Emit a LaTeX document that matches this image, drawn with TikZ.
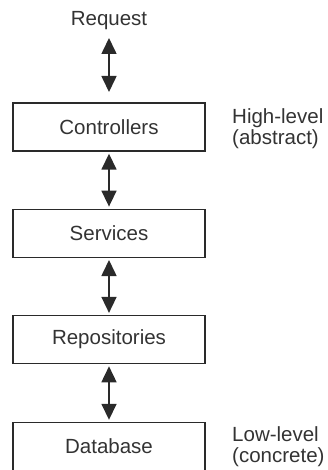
\documentclass[tikz,border=0pt]{standalone}
\usepackage{fontspec}
\setmainfont{Liberation Sans}
\usetikzlibrary{arrows.meta}

\definecolor{inkline}{HTML}{2A2A2A}
\definecolor{inktext}{HTML}{333333}

\tikzset{
  layer/.style={draw=inkline, line width=1.4pt, minimum width=192pt,
    minimum height=48pt, inner sep=0pt, text=inktext,
    font=\fontsize{20.5}{22}\selectfont},
  plain/.style={text=inktext, inner sep=0pt,
    font=\fontsize{20.5}{21}\selectfont},
  note/.style={plain, align=left, anchor=north west},
  both/.style={draw=inkline, line width=1.6pt,
    {Triangle[length=16pt,width=15pt]}-{Triangle[length=16pt,width=15pt]},
    shorten <=2pt, shorten >=2pt}
}

\begin{document}
\begin{tikzpicture}[x=1pt,y=-1pt]
  \path[use as bounding box, clip] (0,0) rectangle (328,470);

  % request label on top
  \node[plain, anchor=base] (req) at (109,26) {Request};
  \coordinate (reqtop) at (109,36);
  \coordinate (reqbot) at (109,94);

  % stack of layers
  \node[layer] (ctrl) at (109,127) {Controllers};
  \node[layer] (serv) at (109,233.3) {Services};
  \node[layer] (repo) at (109,339.6) {Repositories};
  \node[layer] (db)   at (109,446.5) {Database};

  % two-way links between neighbouring layers
  \draw[both] (reqtop) -- (reqbot);
  \draw[both] (ctrl.south) -- (serv.north);
  \draw[both] (serv.south) -- (repo.north);
  \draw[both] (repo.south) -- (db.north);

  % level annotations
  \node[note] (high) at (232,108.5) {High-level\\(abstract)};
  \node[note] (low)  at (232,426) {Low-level\\(concrete)};
\end{tikzpicture}
\end{document}
